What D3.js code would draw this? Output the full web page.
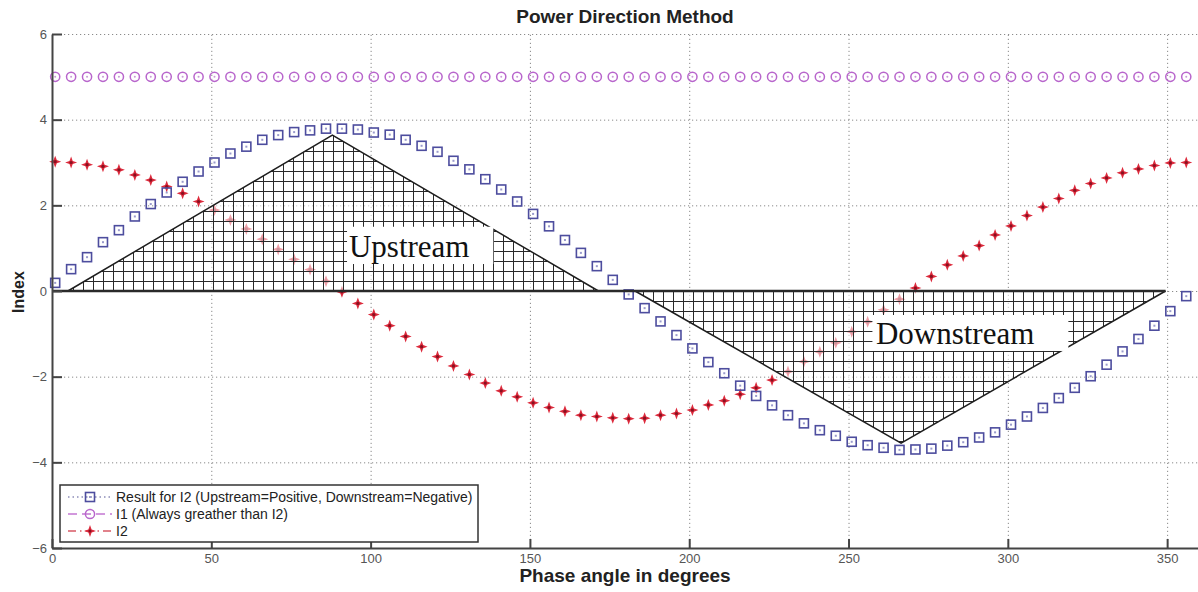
<!DOCTYPE html>
<html>
<head>
<meta charset="utf-8">
<script src="https://cdn.jsdelivr.net/npm/d3@7"></script>
<style>
  body { margin: 0; background: #fff; }
  svg { display: block; font-family: "Liberation Sans", Arial, sans-serif; }
  .grid line { stroke: #8a8a8a; stroke-dasharray: 1.2,2.8; }
  .grid path { display: none; }
  .axis path, .axis line { stroke: #444; }
  .axis path { stroke-width: 2; }
  .axis text { fill: #555; font-size: 13px; }
</style>
</head>
<body>
<div id="chart"></div>
<script>
// phase angle samples (degrees)
var angles = [1, 6, 11, 16, 21, 26, 31, 36, 41, 46, 51, 56,
	61, 66, 71, 76, 81, 86, 91, 96, 101, 106, 111, 116,
	121, 126, 131, 136, 141, 146, 151, 156, 161, 166, 171, 176,
	181, 186, 191, 196, 201, 206, 211, 216, 221, 226, 231, 236,
	241, 246, 251, 256, 261, 266, 271, 276, 281, 286, 291, 296,
	301, 306, 311, 316, 321, 326, 331, 336, 341, 346, 351, 356];

// Result for I2
var result = [0.19, 0.51, 0.79, 1.14, 1.42, 1.74, 2.03, 2.30, 2.55, 2.79, 3.00, 3.21,
	3.37, 3.53, 3.64, 3.71, 3.75, 3.79, 3.79, 3.77, 3.70, 3.65, 3.53, 3.39,
	3.25, 3.04, 2.84, 2.61, 2.37, 2.09, 1.80, 1.51, 1.19, 0.89, 0.58, 0.26,
	-0.08, -0.40, -0.71, -1.03, -1.34, -1.66, -1.92, -2.21, -2.45, -2.67, -2.90, -3.09,
	-3.25, -3.38, -3.52, -3.60, -3.66, -3.71, -3.70, -3.68, -3.61, -3.53, -3.42, -3.30,
	-3.12, -2.93, -2.73, -2.50, -2.26, -1.99, -1.72, -1.41, -1.12, -0.81, -0.47, -0.12];

// I1
var i1 = [5, 5, 5, 5, 5, 5, 5, 5, 5, 5, 5, 5,
	5, 5, 5, 5, 5, 5, 5, 5, 5, 5, 5, 5,
	5, 5, 5, 5, 5, 5, 5, 5, 5, 5, 5, 5,
	5, 5, 5, 5, 5, 5, 5, 5, 5, 5, 5, 5,
	5, 5, 5, 5, 5, 5, 5, 5, 5, 5, 5, 5,
	5, 5, 5, 5, 5, 5, 5, 5, 5, 5, 5, 5];

// I2
var i2 = [3.02, 3.00, 2.95, 2.91, 2.83, 2.71, 2.59, 2.44, 2.28, 2.09, 1.89, 1.66,
	1.45, 1.21, 0.97, 0.74, 0.50, 0.23, -0.02, -0.29, -0.55, -0.81, -1.06, -1.30,
	-1.53, -1.75, -1.95, -2.15, -2.33, -2.47, -2.61, -2.72, -2.81, -2.90, -2.93, -2.96,
	-2.98, -2.97, -2.90, -2.86, -2.78, -2.66, -2.56, -2.41, -2.26, -2.08, -1.88, -1.65,
	-1.42, -1.21, -0.95, -0.72, -0.44, -0.19, 0.07, 0.34, 0.61, 0.82, 1.06, 1.31,
	1.52, 1.76, 1.96, 2.16, 2.35, 2.51, 2.64, 2.76, 2.85, 2.93, 2.99, 3.00];

// hatched regions (angle, index)
var upstream = [[5, 0], [88, 3.64], [171.5, 0]];
var downstream = [[183, 0], [266.5, -3.55], [349.5, 0]];

var xTicks = [0, 50, 100, 150, 200, 250, 300, 350];
var yTicks = [-6, -4, -2, 0, 2, 4, 6];

var legendLabels = ["Result for I2 (Upstream=Positive, Downstream=Negative)",
	"I1 (Always greather than I2)", "I2"];

var margin = {top: 34, right: 0, bottom: 44, left: 52},
	width = 1198 - margin.left - margin.right,
	height = 592 - margin.top - margin.bottom;

var x = d3.scaleLinear().domain([0, 360]).range([0, width + 1]);
var y = d3.scaleLinear().domain([-6, 6]).range([height, 0]);

var svg = d3.select("#chart").append("svg")
	.attr("width", 1198)
	.attr("height", 592);

var defs = svg.append("defs");
var pat = defs.append("pattern")
	.attr("id", "hatch")
	.attr("patternUnits", "userSpaceOnUse")
	.attr("x", 1).attr("y", y(0))
	.attr("width", 10).attr("height", 10);
pat.append("path")
	.attr("d", "M0,0.5H10M0.5,0V10")
	.attr("stroke", "#2a2a2a")
	.attr("stroke-width", 1)
	.attr("fill", "none");

var g = svg.append("g")
	.attr("transform", "translate(" + margin.left + "," + margin.top + ")");

// dotted grid
g.append("g").attr("class", "grid")
	.attr("transform", "translate(0," + height + ")")
	.call(d3.axisBottom(x).tickValues(xTicks).tickSize(-height).tickFormat(""));
g.append("g").attr("class", "grid")
	.call(d3.axisLeft(y).tickValues(yTicks).tickSize(-width).tickFormat(""));

var pts = angles.map(function(a, i) {
	return {a: a, r: result[i], i1: i1[i], i2: i2[i]};
});

// markers
var star = "M0,-6L1.6,-1.6L6,0L1.6,1.6L0,6L-1.6,1.6L-6,0L-1.6,-1.6Z";

function drawSquare(sel) {
	sel.append("rect").attr("x", -4.5).attr("y", -4.5).attr("width", 9).attr("height", 9)
		.attr("fill", "none").attr("stroke", "#4d4d9e").attr("stroke-width", 1.6);
	sel.append("rect").attr("x", -1).attr("y", -1).attr("width", 2).attr("height", 2)
		.attr("fill", "#9a9acc");
}
function drawCircle(sel) {
	sel.append("circle").attr("r", 4.6)
		.attr("fill", "none").attr("stroke", "#b866cc").attr("stroke-width", 1.5);
	sel.append("circle").attr("r", 1).attr("fill", "#c99ad6");
}
function drawStar(sel) {
	sel.append("path").attr("d", star).attr("fill", "#dd2a3c");
	sel.append("circle").attr("r", 1.6).attr("fill", "#8a1020");
}

g.append("g").selectAll("g").data(pts).enter().append("g")
	.attr("transform", function(d) { return "translate(" + x(d.a) + "," + y(d.i1) + ")"; })
	.call(drawCircle);

g.append("g").selectAll("g").data(pts).enter().append("g")
	.attr("transform", function(d) { return "translate(" + x(d.a) + "," + y(d.i2) + ")"; })
	.call(drawStar);

g.append("g").selectAll("g").data(pts).enter().append("g")
	.attr("transform", function(d) { return "translate(" + x(d.a) + "," + y(d.r) + ")"; })
	.call(drawSquare);

// hatched triangles
var tri = d3.line().x(function(d) { return x(d[0]); }).y(function(d) { return y(d[1]); });
[upstream, downstream].forEach(function(t) {
	g.append("path").attr("d", tri(t) + "Z")
		.attr("fill", "#fff").attr("fill-opacity", 0.55);
	g.append("path").attr("d", tri(t) + "Z")
		.attr("fill", "url(#hatch)");
	g.append("path").attr("d", tri(t))
		.attr("fill", "none").attr("stroke", "#1e1e1e").attr("stroke-width", 1.5);
});
g.append("line")
	.attr("x1", x(0)).attr("x2", x(downstream[2][0]))
	.attr("y1", y(0)).attr("y2", y(0))
	.attr("stroke", "#2a2a2a").attr("stroke-width", 2.5);

// region labels with white boxes
var notes = [
	{text: "Upstream", box: [92.6, 138.5, 1.50, 0.63], at: [93.2, 0.80]},
	{text: "Downstream", box: [257.5, 319, -0.56, -1.40], at: [258.6, -1.23]}
];
notes.forEach(function(n) {
	g.append("rect")
		.attr("x", x(n.box[0])).attr("y", y(n.box[2]))
		.attr("width", x(n.box[1]) - x(n.box[0]))
		.attr("height", y(n.box[3]) - y(n.box[2]))
		.attr("fill", "#fff");
	g.append("text")
		.attr("x", x(n.at[0])).attr("y", y(n.at[1]))
		.attr("font-family", "'Liberation Serif', 'Times New Roman', serif")
		.attr("font-size", 31)
		.attr("fill", "#111")
		.text(n.text);
});

// axes
var yAxis = g.append("g").attr("class", "axis")
	.call(d3.axisLeft(y).tickValues(yTicks).tickSize(-10).tickSizeOuter(0).tickPadding(5));
var xAxis = g.append("g").attr("class", "axis")
	.attr("transform", "translate(0," + height + ")")
	.call(d3.axisBottom(x).tickValues(xTicks).tickSize(-9).tickSizeOuter(0).tickPadding(6));
yAxis.selectAll(".tick line").attr("stroke-width", 2);
xAxis.selectAll(".tick line").attr("stroke-width", 2);

// legend
var lg = g.append("g").attr("transform", "translate(" + (60 - margin.left) + "," + (485 - margin.top) + ")");
lg.append("rect").attr("width", 418).attr("height", 57)
	.attr("fill", "#fff").attr("stroke", "#333").attr("stroke-width", 1.5);
var rows = [
	{dash: "1.5,3", color: "#8c8cb8", mark: drawSquare},
	{dash: "9,5", color: "#c477d2", mark: drawCircle},
	{dash: "8,4,1.5,4", color: "#d85a66", mark: drawStar}
];
rows.forEach(function(r, i) {
	var ry = 12 + i * 17;
	lg.append("line").attr("x1", 8).attr("x2", 52).attr("y1", ry).attr("y2", ry)
		.attr("stroke", r.color).attr("stroke-width", 1.3).attr("stroke-dasharray", r.dash);
	lg.append("g").attr("transform", "translate(30," + ry + ")").call(r.mark);
	lg.append("text").attr("x", 56).attr("y", ry + 5)
		.attr("font-size", 14).attr("fill", "#222")
		.text(legendLabels[i]);
});

// titles
svg.append("text")
	.attr("x", 625).attr("y", 23)
	.attr("text-anchor", "middle")
	.attr("font-size", 19).attr("font-weight", "bold").attr("fill", "#222")
	.text("Power Direction Method");
svg.append("text")
	.attr("x", 625).attr("y", 582)
	.attr("text-anchor", "middle")
	.attr("font-size", 19).attr("font-weight", "bold").attr("fill", "#222")
	.text("Phase angle in degrees");
svg.append("text")
	.attr("transform", "translate(24,292) rotate(-90)")
	.attr("text-anchor", "middle")
	.attr("font-size", 16).attr("font-weight", "bold").attr("fill", "#222")
	.text("Index");
</script>
</body>
</html>
